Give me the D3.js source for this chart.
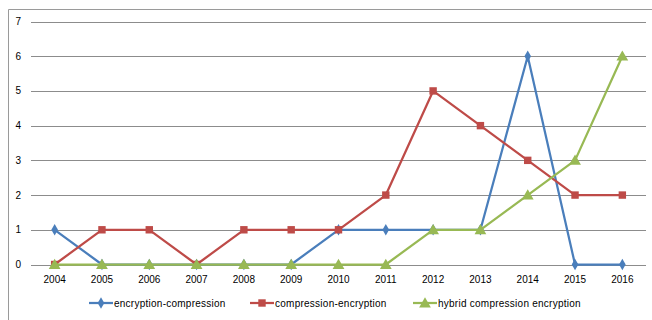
<!DOCTYPE html>
<html>
<head>
<meta charset="utf-8">
<script src="https://cdn.jsdelivr.net/npm/d3@7"></script>
<style>
  body { margin: 0; background: #fff; }
  text { font-family: "Liberation Sans", Arial, sans-serif; fill: #000; }
</style>
</head>
<body>
<script>
//line chart of approaches per year

var years = ["2004","2005","2006","2007","2008","2009","2010","2011","2012","2013","2014","2015","2016"];
var encComp = [1,0,0,0,0,0,1,1,1,1,6,0,0];
var compEnc = [0,1,1,0,1,1,1,2,5,4,3,2,2];
var hybrid  = [0,0,0,0,0,0,0,0,1,1,2,3,6];
var yTicks = [0,1,2,3,4,5,6,7];

var seriesNames = ["encryption-compression", "compression-encryption", "hybrid compression encryption"];
var seriesColors = ["#4a7ebb", "#be4b48", "#98b954"];
var seriesShapes = [d3.symbolDiamond, d3.symbolSquare, d3.symbolTriangle];
var seriesSizes = [38, 55, 60];
var seriesData = [encComp, compEnc, hybrid];

var width = 652, height = 320;
var svg = d3.select("body").append("svg")
    .attr("width", width)
    .attr("height", height);

//chart frame (only top and left edges show)
svg.append("path")
    .attr("d", "M8.5,320 L8.5,9.5 L652,9.5")
    .attr("fill", "none")
    .attr("stroke", "#9a9a9a")
    .attr("stroke-width", 1);

var x = d3.scaleBand()
    .domain(years)
    .range([31, 646]);

var y = d3.scaleLinear()
    .domain([0, 7])
    .range([264.5, 21.5]);

//gridlines
svg.selectAll(".grid")
    .data(yTicks)
    .enter()
    .append("line")
    .attr("class", "grid")
    .attr("x1", 31)
    .attr("x2", 646)
    .attr("y1", function(d){ return Math.round(y(d)) + 0.5; })
    .attr("y2", function(d){ return Math.round(y(d)) + 0.5; })
    .attr("stroke", "#8c8c8c")
    .attr("stroke-width", 1);

//y labels
svg.selectAll(".ylab")
    .data(yTicks)
    .enter()
    .append("text")
    .attr("class", "ylab")
    .attr("x", 21)
    .attr("y", function(d){ return y(d) + 3.5; })
    .attr("text-anchor", "end")
    .attr("font-size", "10px")
    .text(function(d){ return d; });

//x labels
svg.selectAll(".xlab")
    .data(years)
    .enter()
    .append("text")
    .attr("class", "xlab")
    .attr("x", function(d){ return x(d) + x.bandwidth() / 2; })
    .attr("y", 283)
    .attr("text-anchor", "middle")
    .attr("font-size", "10px")
    .text(function(d){ return d; });

var line = d3.line()
    .x(function(d, i){ return x(years[i]) + x.bandwidth() / 2; })
    .y(function(d){ return y(d); });

seriesData.forEach(function(vals, s){
    svg.append("path")
        .datum(vals)
        .attr("fill", "none")
        .attr("stroke", seriesColors[s])
        .attr("stroke-width", 2.25)
        .attr("stroke-linejoin", "round")
        .attr("d", line);

    svg.selectAll(".mark" + s)
        .data(vals)
        .enter()
        .append("path")
        .attr("class", "mark" + s)
        .attr("transform", function(d, i){
            var dy = s == 2 ? 1 : 0;
            return "translate(" + (x(years[i]) + x.bandwidth() / 2) + "," + (y(d) + dy) + ")";
        })
        .attr("d", d3.symbol().type(seriesShapes[s]).size(seriesSizes[s]))
        .attr("fill", seriesColors[s]);
});

//legend
var legendX = [89, 250, 413];
var legend = svg.selectAll(".legend")
    .data(seriesNames)
    .enter()
    .append("g")
    .attr("class", "legend")
    .attr("transform", function(d, i){ return "translate(" + legendX[i] + ",303)"; });

legend.append("line")
    .attr("x1", 0)
    .attr("x2", 24)
    .attr("stroke", function(d, i){ return seriesColors[i]; })
    .attr("stroke-width", 2.25);

legend.append("path")
    .attr("transform", function(d, i){ return "translate(12," + (i == 2 ? 1 : 0) + ")"; })
    .attr("d", function(d, i){ return d3.symbol().type(seriesShapes[i]).size(seriesSizes[i])(); })
    .attr("fill", function(d, i){ return seriesColors[i]; });

legend.append("text")
    .attr("x", 25)
    .attr("y", 3.5)
    .attr("font-size", "10px")
    .attr("letter-spacing", "0.25px")
    .text(function(d){ return d; });
</script>
</body>
</html>
